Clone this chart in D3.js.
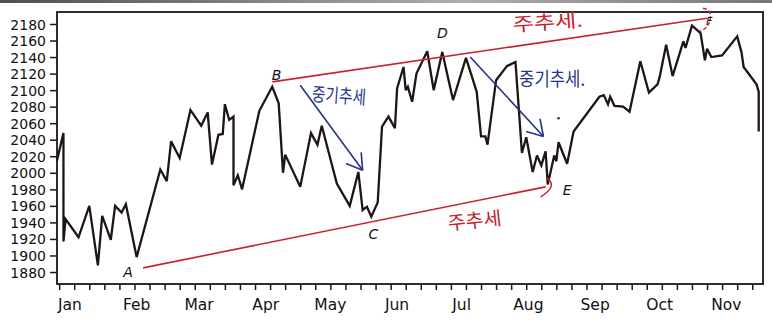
<!DOCTYPE html>
<html>
<head>
<meta charset="utf-8">
<script src="https://cdn.jsdelivr.net/npm/d3@7"></script>
<style>
  body { margin: 0; background: #fff; }
  text { font-family: "DejaVu Sans", "Open Sans", sans-serif; }
</style>
</head>
<body>
<div id="chart"></div>
<script>
// price line
const dates = [
  "2015-12-26", "2015-12-29", "2015-12-29", "2015-12-30", "2016-01-05", "2016-01-10", "2016-01-14",
  "2016-01-16", "2016-01-20", "2016-01-22", "2016-01-25", "2016-01-27", "2016-02-01", "2016-02-12",
  "2016-02-15", "2016-02-17", "2016-02-21", "2016-02-26", "2016-03-02", "2016-03-05", "2016-03-07",
  "2016-03-10", "2016-03-12", "2016-03-13", "2016-03-15", "2016-03-17", "2016-03-17", "2016-03-19",
  "2016-03-21", "2016-03-29", "2016-04-04", "2016-04-07", "2016-04-09", "2016-04-10", "2016-04-17",
  "2016-04-22", "2016-04-25", "2016-04-27", "2016-05-04", "2016-05-10", "2016-05-14", "2016-05-16",
  "2016-05-18", "2016-05-20", "2016-05-23", "2016-05-25", "2016-05-28", "2016-05-31", "2016-06-01",
  "2016-06-04", "2016-06-05", "2016-06-06", "2016-06-08", "2016-06-10", "2016-06-15", "2016-06-18",
  "2016-06-22", "2016-06-25", "2016-06-27", "2016-07-03", "2016-07-08", "2016-07-10", "2016-07-12",
  "2016-07-13", "2016-07-17", "2016-07-22", "2016-07-26", "2016-07-29", "2016-07-31", "2016-08-03",
  "2016-08-05", "2016-08-07", "2016-08-09", "2016-08-10", "2016-08-13", "2016-08-14", "2016-08-15",
  "2016-08-19", "2016-08-22", "2016-09-03", "2016-09-05", "2016-09-07", "2016-09-08", "2016-09-10",
  "2016-09-14", "2016-09-17", "2016-09-22", "2016-09-26", "2016-09-30", "2016-10-01", "2016-10-04",
  "2016-10-07", "2016-10-12", "2016-10-13", "2016-10-16", "2016-10-20", "2016-10-22", "2016-10-23",
  "2016-10-25", "2016-10-30", "2016-11-06", "2016-11-08", "2016-11-09", "2016-11-15", "2016-11-16",
  "2016-11-16"
];
const values = [
  2015, 2048, 1917, 1944, 1922, 1960, 1888,
  1948, 1919, 1960, 1952, 1962, 1898, 2004,
  1990, 2038, 2018, 2076, 2057, 2073, 2010,
  2046, 2047, 2083, 2064, 2068, 1985, 1997,
  1980, 2075, 2104, 2084, 2000, 2022, 1983,
  2048, 2034, 2057, 1987, 1960, 2001, 1955,
  1959, 1947, 1964, 2056, 2068, 2054, 2102,
  2128, 2100, 2104, 2086, 2120, 2147, 2100,
  2146, 2111, 2088, 2139, 2098, 2044, 2044,
  2034, 2112, 2129, 2134, 2024, 2043, 2001,
  2021, 2009, 2026, 1986, 2021, 2014, 2037,
  2011, 2050, 2092, 2094, 2083, 2092, 2081,
  2080, 2074, 2135, 2097, 2107, 2116, 2155,
  2117, 2159, 2151, 2178, 2169, 2136, 2150,
  2140, 2142, 2165, 2146, 2128, 2107, 2098,
  2050
];

const yTicks = d3.range(1880, 2181, 20);
const monthLabels = ["Jan", "Feb", "Mar", "Apr", "May", "Jun", "Jul", "Aug", "Sep", "Oct", "Nov"];

// annotations (date, value)
const letters = [
  { t: "A", d: "2016-01-28", v: 1880 },
  { t: "B", d: "2016-04-06", v: 2118 },
  { t: "C", d: "2016-05-21", v: 1926 },
  { t: "D", d: "2016-06-22", v: 2169 },
  { t: "E", d: "2016-08-19", v: 1979 },
  { t: "F", d: "2016-10-24", v: 2183 }
];
const primaryLow = [["2016-02-04", 1885], ["2016-08-09", 1983]];
const primaryHigh = [["2016-04-04", 2110], ["2016-10-23", 2187]];
const arrows = [
  [["2016-04-17", 2106], ["2016-05-16", 2003]],
  [["2016-07-05", 2140], ["2016-08-08", 2044]]
];
const notes = [
  { t: "주추세", d: "2016-07-07", v: 1942, c: "red", w: 54, r: -6 },
  { t: "주추세.", d: "2016-08-10", v: 2182, c: "red", w: 70, r: -4 },
  { t: "중기추세", d: "2016-05-05", v: 2093, c: "blue", w: 54, r: 4 },
  { t: "중기추세.", d: "2016-08-12", v: 2113, c: "blue", w: 66, r: 0 }
];

const RED = "#c8232c";
const BLUE = "#27338a";
const INK = "#1f1515";

const W = 772, H = 320;
const mLeft = 57, mTop = 12, mRight = 763, mBottom = 284;
const parse = d3.timeParse("%Y-%m-%d");

const svg = d3.select("#chart").append("svg")
  .attr("width", W).attr("height", H)
  .attr("viewBox", [0, 0, W, H]);

// scan shadow at the top edge
const grad = svg.append("defs").append("linearGradient").attr("id", "scan");
grad.append("stop").attr("offset", "0%").attr("stop-color", "#222");
grad.append("stop").attr("offset", "60%").attr("stop-color", "#999");
grad.append("stop").attr("offset", "100%").attr("stop-color", "#555");
svg.append("rect").attr("x", 0).attr("y", 0).attr("width", W).attr("height", 3)
  .attr("fill", "url(#scan)").attr("opacity", 0.8);

const x = d3.scaleTime()
  .domain([parse("2015-12-26"), parse("2016-11-18")])
  .range([mLeft, mRight]);
const y = d3.scaleLinear()
  .domain([1865.5, 2194.5])
  .range([mBottom, mTop]);

// y axis
const yAxis = svg.append("g")
  .attr("transform", `translate(${mLeft},0)`)
  .call(d3.axisLeft(y).tickValues(yTicks).tickFormat(d3.format("d")).tickSize(7).tickPadding(4));
yAxis.select(".domain").remove();
yAxis.selectAll("line").attr("stroke", INK).attr("stroke-width", 1.5);
yAxis.selectAll("text").attr("fill", "#111").style("font-size", "14px")
  .style("font-family", "'DejaVu Sans', sans-serif").attr("dy", "0.36em");

// weekly ticks
const xAxis = svg.append("g")
  .attr("transform", `translate(0,${mBottom})`)
  .call(d3.axisBottom(x).ticks(d3.timeWeek.every(1)).tickFormat("").tickSize(6));
xAxis.select(".domain").remove();
xAxis.selectAll("line").attr("stroke", INK).attr("stroke-width", 1.5);

svg.append("g").selectAll("text")
  .data(monthLabels)
  .join("text")
  .attr("x", (d, i) => x(new Date(2016, i, 1)))
  .attr("y", 310)
  .attr("text-anchor", "middle")
  .attr("fill", "#111")
  .style("font-size", "15.5px")
  .text(d => d);

// frame
svg.append("rect")
  .attr("x", mLeft).attr("y", mTop)
  .attr("width", mRight - mLeft).attr("height", mBottom - mTop)
  .attr("fill", "none").attr("stroke", INK).attr("stroke-width", 1.8);

// price line
const pts = dates.map((d, i) => [parse(d), values[i]]);
svg.append("path")
  .datum(pts)
  .attr("fill", "none")
  .attr("stroke", INK)
  .attr("stroke-width", 2.3)
  .attr("stroke-linejoin", "miter")
  .attr("stroke-miterlimit", 3)
  .attr("d", d3.line().x(d => x(d[0])).y(d => y(d[1])));

// primary trend lines
const seg = d3.line().x(d => x(parse(d[0]))).y(d => y(d[1]));
[primaryLow, primaryHigh].forEach(l => {
  svg.append("path").attr("d", seg(l))
    .attr("stroke", RED).attr("stroke-width", 1.6).attr("fill", "none");
});

// red scribbles round E and F
const eP = [x(parse(primaryLow[1][0])), y(primaryLow[1][1])];
svg.append("path")
  .attr("d", `M${eP[0] + 1},${eP[1] - 9} Q${eP[0] + 13},${eP[1] - 1} ${eP[0] - 5},${eP[1] + 10}`)
  .attr("stroke", RED).attr("stroke-width", 1.5).attr("fill", "none");
const fP = [x(parse(primaryHigh[1][0])), y(primaryHigh[1][1])];
svg.append("path")
  .attr("d", `M${fP[0] - 4},${fP[1] - 10} Q${fP[0] + 5},${fP[1] - 9} ${fP[0] + 3},${fP[1] + 2} Q${fP[0] + 1},${fP[1] + 10} ${fP[0] - 7},${fP[1] + 13}`)
  .attr("stroke", RED).attr("stroke-width", 1.4).attr("stroke-dasharray", "4 2").attr("fill", "none");

// intermediate trend arrows
arrows.forEach(a => {
  const p0 = [x(parse(a[0][0])), y(a[0][1])];
  const p1 = [x(parse(a[1][0])), y(a[1][1])];
  svg.append("line")
    .attr("x1", p0[0]).attr("y1", p0[1]).attr("x2", p1[0]).attr("y2", p1[1])
    .attr("stroke", BLUE).attr("stroke-width", 1.6);
  const ang = Math.atan2(p1[1] - p0[1], p1[0] - p0[0]);
  const len = 18;
  [-0.55, 0.55].forEach(o => {
    svg.append("line")
      .attr("x1", p1[0]).attr("y1", p1[1])
      .attr("x2", p1[0] - len * Math.cos(ang + o))
      .attr("y2", p1[1] - len * Math.sin(ang + o))
      .attr("stroke", BLUE).attr("stroke-width", 1.6);
  });
});
svg.append("circle")
  .attr("cx", x(parse("2016-08-15"))).attr("cy", y(2066))
  .attr("r", 1.3).attr("fill", "#333");

// handwritten notes
notes.forEach(n => {
  const px = x(parse(n.d)), py = y(n.v);
  svg.append("text")
    .attr("transform", `translate(${px},${py}) rotate(${n.r})`)
    .attr("text-anchor", "middle")
    .attr("dy", "0.35em")
    .attr("textLength", n.w)
    .attr("lengthAdjust", "spacingAndGlyphs")
    .attr("fill", n.c === "red" ? RED : BLUE)
    .style("font-family", "'Noto Sans CJK KR', sans-serif")
    .style("font-size", "19px")
    .text(n.t);
});

// point letters
svg.append("g").selectAll("text")
  .data(letters)
  .join("text")
  .attr("x", d => x(parse(d.d)))
  .attr("y", d => y(d.v))
  .attr("dy", "0.35em")
  .attr("text-anchor", "middle")
  .attr("fill", "#111")
  .style("font-style", "italic")
  .style("font-size", d => d.t === "F" ? "11px" : "14px")
  .text(d => d.t);
</script>
</body>
</html>
